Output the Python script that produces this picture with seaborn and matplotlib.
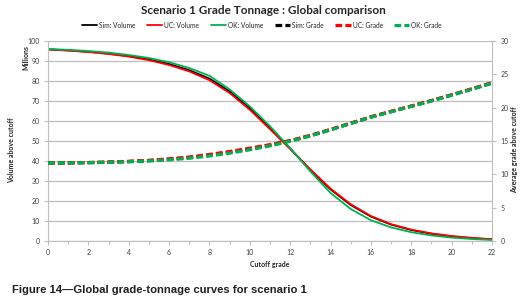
import numpy as np
import pandas as pd
import matplotlib
matplotlib.use("Agg")
import matplotlib.pyplot as plt
import seaborn as sns
from matplotlib.ticker import MultipleLocator

cutoff = list(range(0, 23))
sim_vol = [95.8, 95.3, 94.6, 93.7, 92.5, 90.8, 88.5, 85.4, 81.2, 74.8, 66.4, 56.5, 46.2, 35.5, 25.8, 18.0, 12.2, 8.2, 5.5, 3.6, 2.3, 1.4, 0.8]
uc_vol = [95.8, 95.2, 94.5, 93.5, 92.2, 90.4, 88.0, 84.8, 80.4, 74.0, 65.6, 55.9, 46.0, 35.8, 26.2, 18.4, 12.5, 8.4, 5.7, 3.8, 2.5, 1.6, 0.9]
ok_vol = [96.0, 95.6, 95.0, 94.2, 93.0, 91.5, 89.4, 86.5, 82.6, 75.8, 67.3, 57.4, 46.4, 34.8, 24.0, 16.0, 10.4, 6.8, 4.4, 2.8, 1.7, 1.0, 0.5]
sim_grade = [11.7, 11.72, 11.76, 11.82, 11.92, 12.06, 12.26, 12.52, 12.88, 13.32, 13.82, 14.38, 15.02, 15.8, 16.7, 17.65, 18.6, 19.42, 20.22, 21.04, 21.9, 22.8, 23.7]
uc_grade = [11.7, 11.72, 11.77, 11.84, 11.95, 12.1, 12.32, 12.6, 12.98, 13.42, 13.92, 14.45, 15.06, 15.84, 16.74, 17.68, 18.63, 19.45, 20.25, 21.07, 21.93, 22.83, 23.75]
ok_grade = [11.7, 11.71, 11.74, 11.79, 11.88, 12.0, 12.18, 12.42, 12.75, 13.18, 13.68, 14.26, 14.96, 15.76, 16.68, 17.62, 18.56, 19.38, 20.18, 21.0, 21.86, 22.76, 23.66]

methods = ["Sim", "UC", "OK"]
colors = {"Sim": "#000000", "UC": "#FF0000", "OK": "#00B050"}

vol_df = pd.DataFrame({
    "cutoff": cutoff * 3,
    "value": sim_vol + uc_vol + ok_vol,
    "method": [m for m in methods for _ in cutoff],
})
grade_df = pd.DataFrame({
    "cutoff": cutoff * 3,
    "value": sim_grade + uc_grade + ok_grade,
    "method": [m for m in methods for _ in cutoff],
})

sns.set_style("white")
plt.rcParams["font.family"] = ["Lato", "DejaVu Sans"]

fig = plt.figure(figsize=(5.26, 3.03), dpi=100)
ax = fig.add_axes([48 / 526, 1 - 241 / 303, (492 - 48) / 526, (241 - 41) / 303])
ax2 = ax.twinx()

grid_c = "#BFBFBF"
for m in methods:
    sub = vol_df[vol_df.method == m]
    sns.lineplot(data=sub, x="cutoff", y="value", ax=ax, color=colors[m], lw=1.3,
                 label=f"{m}: Volume", legend=False)
for m in methods:
    sub = grade_df[grade_df.method == m]
    sns.lineplot(data=sub, x="cutoff", y="value", ax=ax2, color=colors[m], lw=2.3,
                 linestyle=(0, (2.1, 1.0)), label=f"{m}: Grade", legend=False)

ax.set_xlim(0, 22)
ax.set_ylim(0, 100)
ax2.set_ylim(0, 30)
ax.xaxis.set_major_locator(MultipleLocator(2))
ax.xaxis.set_minor_locator(MultipleLocator(1))
ax.yaxis.set_major_locator(MultipleLocator(10))
ax2.yaxis.set_major_locator(MultipleLocator(5))
ax.yaxis.grid(True, color=grid_c, lw=0.9)
ax.set_axisbelow(True)

for a in (ax, ax2):
    for s in a.spines.values():
        s.set_visible(False)
ax.spines["left"].set_visible(True)
ax.spines["left"].set_color(grid_c)
ax.spines["bottom"].set_visible(True)
ax.spines["bottom"].set_color(grid_c)
ax2.spines["right"].set_visible(True)
ax2.spines["right"].set_color(grid_c)

ax.tick_params(axis="both", which="both", direction="out", colors=grid_c, labelcolor="#404040",
               labelsize=5, length=3, width=0.8, pad=3)
ax.tick_params(axis="x", which="minor", length=2.5, bottom=True)
ax.tick_params(axis="x", which="major", bottom=True)
ax.tick_params(axis="y", left=True)
ax2.tick_params(axis="y", direction="out", colors=grid_c, labelcolor="#404040",
                labelsize=5, length=3, width=0.8, pad=3, right=True)

ax.set_xlabel("Cutoff grade", fontsize=5, fontweight="bold", labelpad=3)
ax.set_ylabel("")
ax2.set_ylabel("")
fig.text(12 / 526, 1 - 150 / 303, "Volume above cutoff", rotation=90, fontsize=5,
         fontweight="bold", ha="center", va="center")
fig.text(26 / 526, 1 - 58 / 303, "Millions", rotation=90, fontsize=5,
         fontweight="bold", ha="center", va="center")
fig.text(515 / 526, 1 - 150 / 303, "Average grade above cutoff", rotation=90, fontsize=5,
         fontweight="bold", ha="center", va="center")

fig.text(263 / 526, 1 - 10 / 303, "Scenario 1 Grade Tonnage : Global comparison",
         fontsize=8.5, fontweight="bold", ha="center", va="center")

h1, l1 = ax.get_legend_handles_labels()
h2, l2 = ax2.get_legend_handles_labels()
fig.legend(h1 + h2, l1 + l2, loc="center", bbox_to_anchor=(262 / 526, 1 - 25 / 303),
           ncol=6, frameon=False, fontsize=4.8, handlelength=2.3, columnspacing=1.7,
           handletextpad=0.3)

fig.text(12 / 526, 1 - 290 / 303, "Figure 14\u2014Global grade-tonnage curves for scenario 1",
         fontsize=8.1, fontweight="bold", family=["Liberation Sans", "DejaVu Sans"],
         ha="left", va="center", color="#231F20")

fig.savefig("out.png", dpi=100)
